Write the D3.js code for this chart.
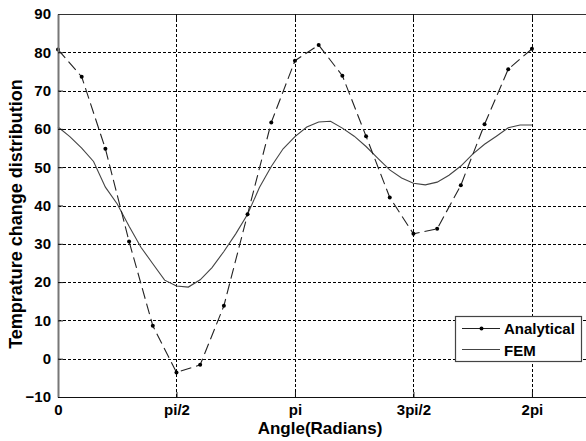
<!DOCTYPE html>
<html>
<head>
<meta charset="utf-8">
<script src="https://cdn.jsdelivr.net/npm/d3@7"></script>
<style>
  html, body { margin: 0; padding: 0; background: #fff; }
  svg { display: block; }
  text { font-family: "Liberation Sans", Arial, sans-serif; font-weight: bold; fill: #000; }
</style>
</head>
<body>
<svg id="chart" width="586" height="441"></svg>
<script>
// Angle ticks (radians) and their labels
const tickAngles = [0, Math.PI / 2, Math.PI, 3 * Math.PI / 2, 2 * Math.PI];
const tickLabels = ["0", "pi/2", "pi", "3pi/2", "2pi"];
const yTicks = [-10, 0, 10, 20, 30, 40, 50, 60, 70, 80, 90];

// Analytical solution, sampled every pi/10 (positions given as multiples of pi)
const analyticalPiFrac = [0, 0.1, 0.2, 0.3, 0.4, 0.5, 0.6, 0.7, 0.8, 0.9, 1.0,
                          1.1, 1.2, 1.3, 1.4, 1.5, 1.6, 1.7, 1.8, 1.9, 2.0];
const analyticalValues = [80.7, 73.6, 54.8, 30.6, 8.6, -3.6, -1.6, 13.8, 37.7, 61.7, 77.8,
                          81.9, 73.9, 58.1, 42.1, 32.6, 33.9, 45.3, 61.2, 75.6, 80.9];

// FEM nodal results, every pi/20 (positions given as multiples of pi)
const femPiFrac = [0, 0.05, 0.1, 0.15, 0.2, 0.25, 0.3, 0.35, 0.4, 0.45, 0.5,
                   0.55, 0.6, 0.65, 0.7, 0.75, 0.8, 0.85, 0.9, 0.95, 1.0,
                   1.05, 1.1, 1.15, 1.2, 1.25, 1.3, 1.35, 1.4, 1.45, 1.5,
                   1.55, 1.6, 1.65, 1.7, 1.75, 1.8, 1.85, 1.9, 1.95, 2.0];
const femValues = [60.5, 58.0, 55.0, 51.5, 44.8, 40.4, 34.6, 29.1, 24.8, 20.5, 19.0,
                   18.7, 20.6, 23.8, 28.0, 32.6, 37.7, 44.7, 50.2, 54.8, 58.0,
                   60.5, 61.8, 62.0, 60.2, 58.1, 55.4, 52.3, 49.3, 47.2, 45.8,
                   45.4, 46.1, 47.9, 50.3, 53.4, 56.0, 58.1, 60.3, 61.0, 61.0];

const analytical = analyticalPiFrac.map((f, i) => ({ a: f * Math.PI, v: analyticalValues[i] }));
const fem = femPiFrac.map((f, i) => ({ a: f * Math.PI, v: femValues[i] }));

const svg = d3.select("#chart");
const plotLeft = 58, plotRight = 586, plotTop = 14, plotBottom = 397;

const x = d3.scaleLinear().domain([0, 7]).range([plotLeft, plotRight]);
const y = d3.scaleLinear().domain([-10, 90]).range([plotBottom, plotTop]);

// Dotted grid
const grid = svg.append("g").attr("stroke", "#000").attr("stroke-width", 1)
  .attr("stroke-dasharray", "3,2").attr("shape-rendering", "crispEdges");
grid.selectAll("line.v").data(tickAngles.slice(1)).join("line")
  .attr("x1", d => Math.round(x(d)) + 0.5).attr("x2", d => Math.round(x(d)) + 0.5)
  .attr("y1", plotTop).attr("y2", plotBottom);
grid.selectAll("line.h").data(yTicks.slice(1, -1)).join("line")
  .attr("x1", plotLeft).attr("x2", plotRight)
  .attr("y1", d => Math.round(y(d)) + 0.5).attr("y2", d => Math.round(y(d)) + 0.5);

// FEM curve
const line = d3.line().x(d => x(d.a)).y(d => y(d.v));
svg.append("path").datum(fem)
  .attr("fill", "none").attr("stroke", "#444").attr("stroke-width", 1.1)
  .attr("d", line);

// Analytical curve (dashed with point markers)
svg.append("path").datum(analytical)
  .attr("fill", "none").attr("stroke", "#222").attr("stroke-width", 1.1)
  .attr("stroke-dasharray", "11,5")
  .attr("d", line);
svg.append("g").selectAll("circle").data(analytical).join("circle")
  .attr("cx", d => x(d.a)).attr("cy", d => y(d.v)).attr("r", 2)
  .attr("fill", "#000");

// Axes
const xAxis = d3.axisBottom(x).tickValues(tickAngles)
  .tickFormat((d, i) => tickLabels[i]).tickSizeInner(-5).tickSizeOuter(0).tickPadding(7);
const gx = svg.append("g").attr("transform", `translate(0,${plotBottom})`).call(xAxis);
gx.select(".domain").attr("stroke", "#111").attr("stroke-width", 1.2);
gx.selectAll(".tick line").attr("stroke", "#111");
gx.selectAll(".tick text").attr("font-size", 15).attr("font-family", null)
  .attr("dy", "0.71em").attr("y", 7);

const yAxis = d3.axisLeft(y).tickValues(yTicks).tickSizeInner(-5).tickSizeOuter(0).tickPadding(8);
const gy = svg.append("g").attr("transform", `translate(${plotLeft},0)`).call(yAxis);
gy.select(".domain").attr("stroke", "#777").attr("stroke-width", 2);
gy.selectAll(".tick line").attr("stroke", "#111");
gy.selectAll(".tick text").attr("font-size", 15).attr("font-family", null).attr("x", -7);

// Top frame with inward ticks
svg.append("line").attr("x1", plotLeft).attr("x2", plotRight)
  .attr("y1", plotTop + 0.5).attr("y2", plotTop + 0.5)
  .attr("stroke", "#333").attr("stroke-width", 1.2);
svg.append("g").selectAll("line").data(tickAngles.slice(1)).join("line")
  .attr("x1", d => Math.round(x(d)) + 0.5).attr("x2", d => Math.round(x(d)) + 0.5)
  .attr("y1", plotTop).attr("y2", plotTop + 5).attr("stroke", "#111");

// Axis titles
svg.append("text").attr("x", 320).attr("y", 434).attr("text-anchor", "middle")
  .attr("font-size", 17).text("Angle(Radians)");
svg.append("text").attr("transform", "translate(22,214) rotate(-90)")
  .attr("text-anchor", "middle").attr("font-size", 18)
  .text("Temprature change distribution");

// Legend
const legend = svg.append("g");
legend.append("rect").attr("x", 455.5).attr("y", 316.5).attr("width", 126).attr("height", 45)
  .attr("fill", "#fff").attr("stroke", "#444").attr("stroke-width", 1.2);
legend.append("line").attr("x1", 462).attr("x2", 500).attr("y1", 328.5).attr("y2", 328.5)
  .attr("stroke", "#222").attr("stroke-width", 1.1);
legend.append("circle").attr("cx", 481.5).attr("cy", 328.5).attr("r", 2).attr("fill", "#000");
legend.append("text").attr("x", 504).attr("y", 334).attr("font-size", 15).text("Analytical");
legend.append("line").attr("x1", 462).attr("x2", 500).attr("y1", 349.5).attr("y2", 349.5)
  .attr("stroke", "#444").attr("stroke-width", 1.1);
legend.append("text").attr("x", 504).attr("y", 356).attr("font-size", 15).text("FEM");
</script>
</body>
</html>
